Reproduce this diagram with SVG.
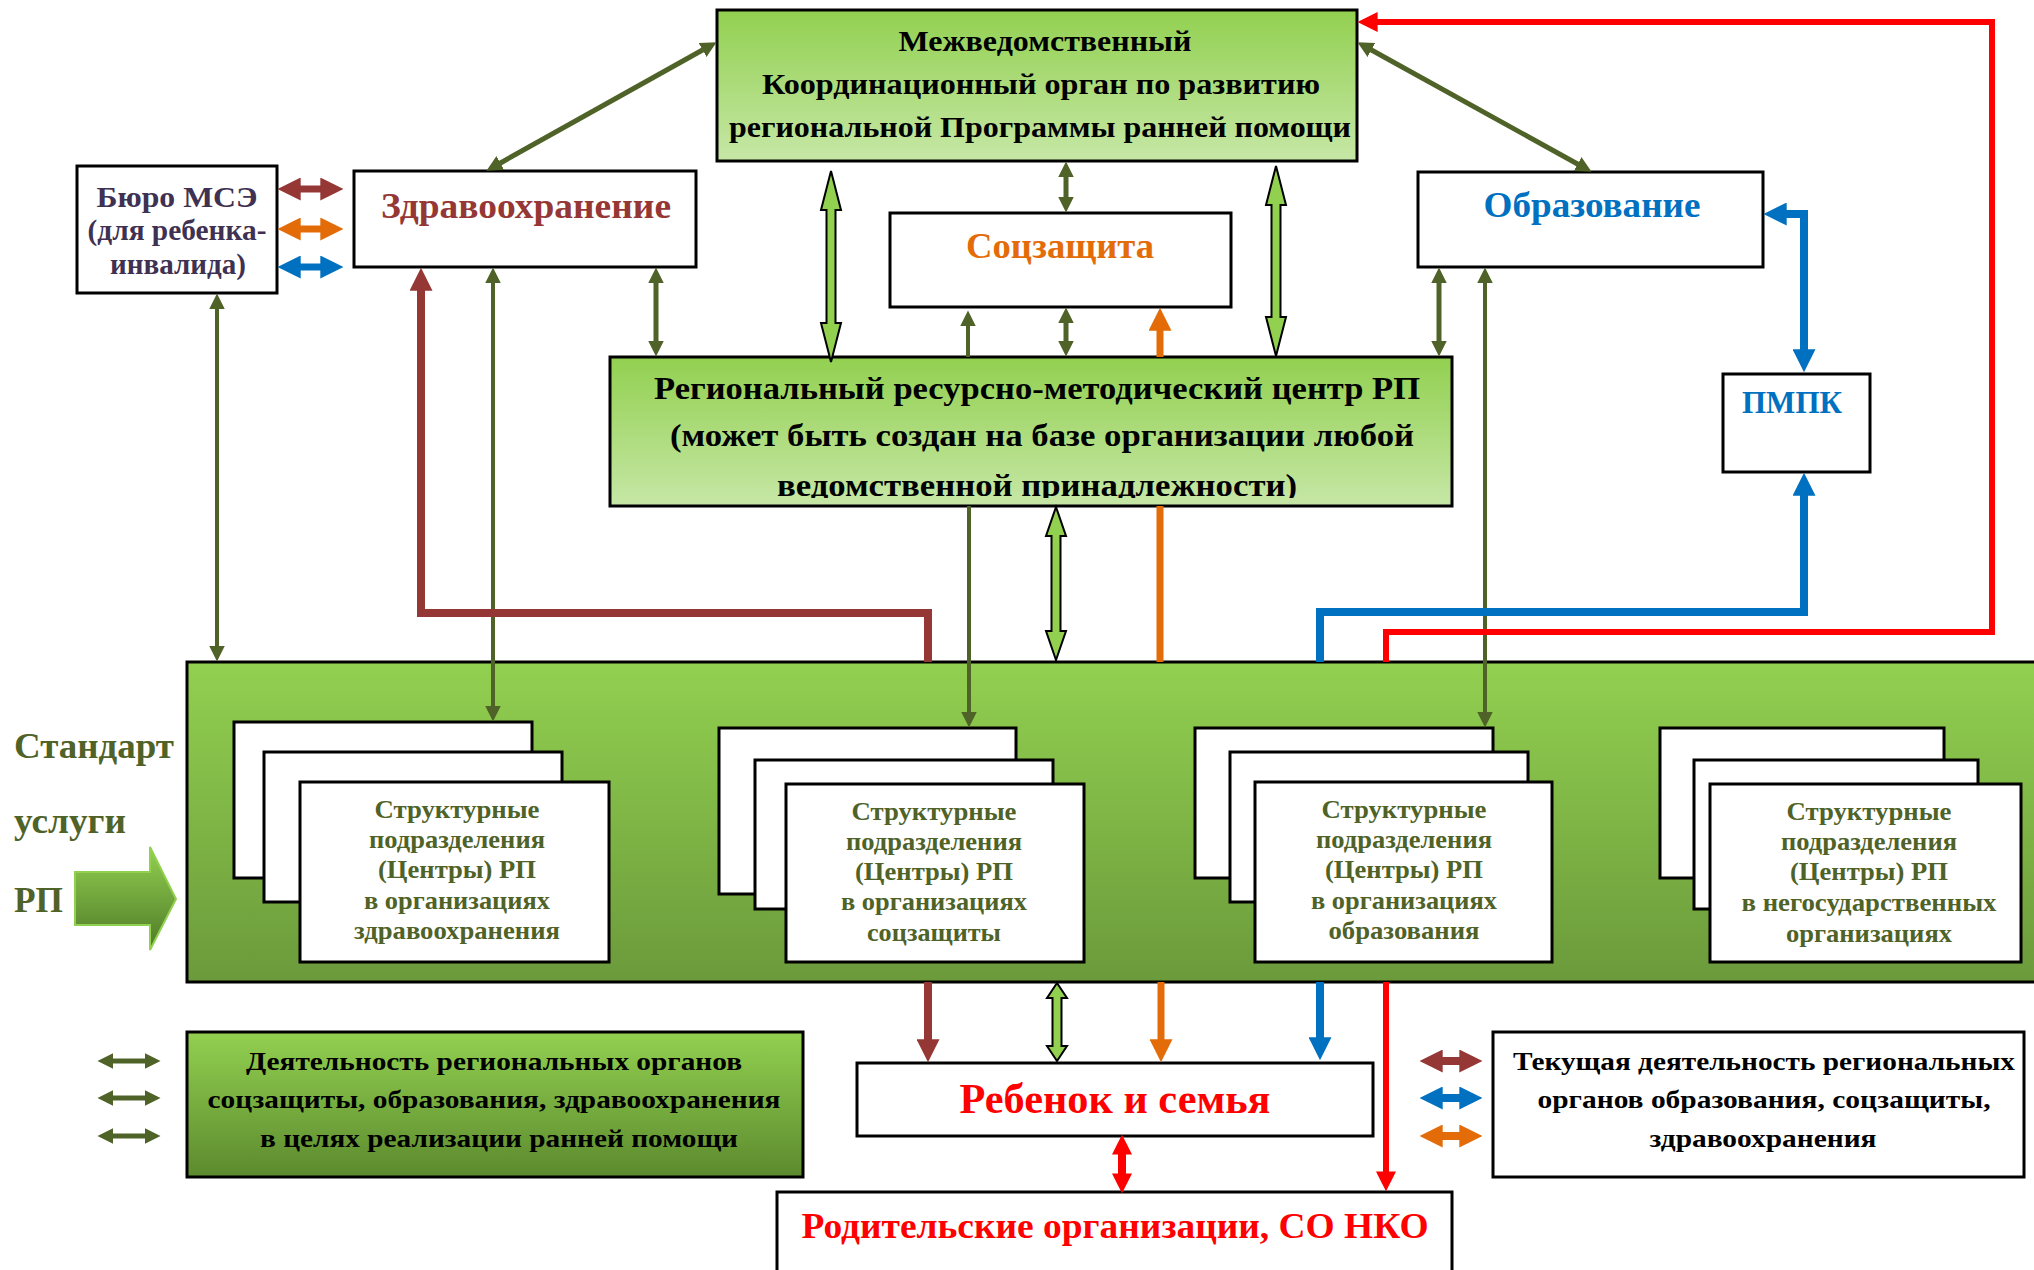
<svg xmlns="http://www.w3.org/2000/svg" width="2034" height="1270" viewBox="0 0 2034 1270">
<style>
text{font-family:"Liberation Serif","Times New Roman",serif;font-weight:bold;text-anchor:middle}
.box{stroke:#000;stroke-width:3}
.white{fill:#fff}
.blk{fill:#000}
.olv{fill:#4F6228}
.t30{font-size:30px}
.t32{font-size:32px}
.t36{font-size:36px}
.t26{font-size:26px}
.ol{stroke:#4F6228;stroke-width:4;fill:none}
.ol5{stroke:#4F6228;stroke-width:5;fill:none}
.br{stroke:#953735;stroke-width:8;fill:none}
.bl{stroke:#0070C0;stroke-width:8;fill:none}
.or{stroke:#E36C09;stroke-width:7;fill:none}
.rd{stroke:#FF0000;stroke-width:6;fill:none}
.blk-arrow{fill:#92D050;stroke:#000;stroke-width:2;stroke-linejoin:miter}
</style>
<defs>
<linearGradient id="gLight" x1="0" y1="0" x2="0" y2="1"><stop offset="0" stop-color="#92D050"/><stop offset="1" stop-color="#C6E7A6"/></linearGradient>
<linearGradient id="gBand" x1="0" y1="0" x2="0" y2="1"><stop offset="0" stop-color="#92D050"/><stop offset="1" stop-color="#6B9A3B"/></linearGradient>
<linearGradient id="gDark" x1="0" y1="0" x2="0" y2="1"><stop offset="0" stop-color="#92D050"/><stop offset="1" stop-color="#5C8A2E"/></linearGradient>
<linearGradient id="gArrow" x1="0" y1="0" x2="0" y2="1"><stop offset="0" stop-color="#92D050"/><stop offset="1" stop-color="#4F7A28"/></linearGradient>
<marker id="hOl" markerUnits="userSpaceOnUse" viewBox="0 0 10 10" preserveAspectRatio="none" refX="0.3" refY="5" markerWidth="16" markerHeight="16" orient="auto-start-reverse"><path d="M0,0L10,5L0,10z" fill="#4F6228"/></marker>
<marker id="hBr" markerUnits="userSpaceOnUse" viewBox="0 0 10 10" preserveAspectRatio="none" refX="0.3" refY="5" markerWidth="23" markerHeight="23" orient="auto-start-reverse"><path d="M0,0L10,5L0,10z" fill="#953735"/></marker>
<marker id="hBl" markerUnits="userSpaceOnUse" viewBox="0 0 10 10" preserveAspectRatio="none" refX="0.3" refY="5" markerWidth="23" markerHeight="23" orient="auto-start-reverse"><path d="M0,0L10,5L0,10z" fill="#0070C0"/></marker>
<marker id="hOr" markerUnits="userSpaceOnUse" viewBox="0 0 10 10" preserveAspectRatio="none" refX="0.3" refY="5" markerWidth="23" markerHeight="23" orient="auto-start-reverse"><path d="M0,0L10,5L0,10z" fill="#E36C09"/></marker>
<marker id="hRd" markerUnits="userSpaceOnUse" viewBox="0 0 10 10" preserveAspectRatio="none" refX="0.3" refY="5" markerWidth="20" markerHeight="20" orient="auto-start-reverse"><path d="M0,0L10,5L0,10z" fill="#FF0000"/></marker>
<clipPath id="cCenter"><rect x="610" y="357" width="842" height="141"/></clipPath>
</defs>

<g id="band">
<rect class="box" x="187" y="662" width="1853" height="320" fill="url(#gBand)"/>
</g>

<g id="standard-label">
<text class="olv" x="14" y="758" font-size="36" style="text-anchor:start" textLength="160" lengthAdjust="spacingAndGlyphs">Стандарт</text>
<text class="olv" x="14" y="833" font-size="36" style="text-anchor:start" textLength="112" lengthAdjust="spacingAndGlyphs">услуги</text>
<text class="olv" x="14" y="912" font-size="36" style="text-anchor:start" textLength="49" lengthAdjust="spacingAndGlyphs">РП</text>
<polygon points="75,872 150,872 150,847 176,899 150,950 150,925 75,925" fill="url(#gArrow)" stroke="#92D050" stroke-width="2"/>
</g>

<g id="node-top">
<rect class="box" x="717" y="10" width="640" height="151" fill="url(#gLight)"/>
<text class="blk t30" x="1045" y="51" textLength="293" lengthAdjust="spacingAndGlyphs">Межведомственный</text>
<text class="blk t30" x="1041" y="94" textLength="558" lengthAdjust="spacingAndGlyphs">Координационный орган по развитию</text>
<text class="blk t30" x="1040" y="137" textLength="622" lengthAdjust="spacingAndGlyphs">региональной Программы ранней помощи</text>
</g>

<g id="node-buro">
<rect class="box white" x="77" y="166" width="200" height="127"/>
<text class="t30" fill="#3F3151" x="177" y="207" textLength="161" lengthAdjust="spacingAndGlyphs">Бюро МСЭ</text>
<text class="t30" fill="#3F3151" x="177" y="240" textLength="179" lengthAdjust="spacingAndGlyphs">(для ребенка-</text>
<text class="t30" fill="#3F3151" x="178" y="274" textLength="136" lengthAdjust="spacingAndGlyphs">инвалида)</text>
</g>

<g id="node-health">
<rect class="box white" x="354" y="171" width="342" height="96"/>
<text class="t36" fill="#953735" x="526" y="218" textLength="290" lengthAdjust="spacingAndGlyphs">Здравоохранение</text>
</g>

<g id="node-social">
<rect class="box white" x="890" y="213" width="341" height="94"/>
<text class="t36" fill="#E36C09" x="1060" y="258" textLength="188" lengthAdjust="spacingAndGlyphs">Соцзащита</text>
</g>

<g id="node-edu">
<rect class="box white" x="1418" y="172" width="345" height="95"/>
<text class="t36" fill="#0070C0" x="1592" y="217" textLength="217" lengthAdjust="spacingAndGlyphs">Образование</text>
</g>

<g id="node-pmpk">
<rect class="box white" x="1723" y="374" width="147" height="98"/>
<text class="t32" fill="#0070C0" x="1792" y="413" textLength="100" lengthAdjust="spacingAndGlyphs">ПМПК</text>
</g>

<g id="node-center">
<rect class="box" x="610" y="357" width="842" height="149" fill="url(#gLight)"/>
<text class="blk t32" x="1037" y="399" textLength="766" lengthAdjust="spacingAndGlyphs">Региональный ресурсно-методический центр РП</text>
<text class="blk t32" x="1042" y="446" textLength="744" lengthAdjust="spacingAndGlyphs">(может быть создан на базе организации любой</text>
<text class="blk t32" x="1037" y="496" textLength="520" lengthAdjust="spacingAndGlyphs" clip-path="url(#cCenter)">ведомственной принадлежности)</text>
</g>

<g id="node-units-health">
<rect class="box white" x="234" y="722" width="298" height="156"/>
<rect class="box white" x="264" y="752" width="298" height="150"/>
<rect class="box white" x="300" y="782" width="309" height="180"/>
<text class="olv t26" x="457" y="818" textLength="165" lengthAdjust="spacingAndGlyphs">Структурные</text>
<text class="olv t26" x="457" y="848" textLength="176" lengthAdjust="spacingAndGlyphs">подразделения</text>
<text class="olv t26" x="457" y="878" textLength="158" lengthAdjust="spacingAndGlyphs">(Центры) РП</text>
<text class="olv t26" x="457" y="909" textLength="186" lengthAdjust="spacingAndGlyphs">в организациях</text>
<text class="olv t26" x="457" y="939" textLength="206" lengthAdjust="spacingAndGlyphs">здравоохранения</text>
</g>

<g id="node-units-social">
<rect class="box white" x="719" y="728" width="297" height="166"/>
<rect class="box white" x="755" y="760" width="298" height="149"/>
<rect class="box white" x="786" y="784" width="298" height="178"/>
<text class="olv t26" x="934" y="820" textLength="165" lengthAdjust="spacingAndGlyphs">Структурные</text>
<text class="olv t26" x="934" y="850" textLength="176" lengthAdjust="spacingAndGlyphs">подразделения</text>
<text class="olv t26" x="934" y="880" textLength="158" lengthAdjust="spacingAndGlyphs">(Центры) РП</text>
<text class="olv t26" x="934" y="910" textLength="186" lengthAdjust="spacingAndGlyphs">в организациях</text>
<text class="olv t26" x="934" y="941" textLength="134" lengthAdjust="spacingAndGlyphs">соцзащиты</text>
</g>

<g id="node-units-edu">
<rect class="box white" x="1195" y="728" width="298" height="150"/>
<rect class="box white" x="1230" y="752" width="298" height="150"/>
<rect class="box white" x="1255" y="782" width="297" height="180"/>
<text class="olv t26" x="1404" y="818" textLength="165" lengthAdjust="spacingAndGlyphs">Структурные</text>
<text class="olv t26" x="1404" y="848" textLength="176" lengthAdjust="spacingAndGlyphs">подразделения</text>
<text class="olv t26" x="1404" y="878" textLength="158" lengthAdjust="spacingAndGlyphs">(Центры) РП</text>
<text class="olv t26" x="1404" y="909" textLength="186" lengthAdjust="spacingAndGlyphs">в организациях</text>
<text class="olv t26" x="1404" y="939" textLength="151" lengthAdjust="spacingAndGlyphs">образования</text>
</g>

<g id="node-units-ngo">
<rect class="box white" x="1660" y="728" width="284" height="150"/>
<rect class="box white" x="1694" y="760" width="284" height="149"/>
<rect class="box white" x="1710" y="784" width="311" height="178"/>
<text class="olv t26" x="1869" y="820" textLength="165" lengthAdjust="spacingAndGlyphs">Структурные</text>
<text class="olv t26" x="1869" y="850" textLength="176" lengthAdjust="spacingAndGlyphs">подразделения</text>
<text class="olv t26" x="1869" y="880" textLength="158" lengthAdjust="spacingAndGlyphs">(Центры) РП</text>
<text class="olv t26" x="1869" y="911" textLength="255" lengthAdjust="spacingAndGlyphs">в негосударственных</text>
<text class="olv t26" x="1869" y="942" textLength="166" lengthAdjust="spacingAndGlyphs">организациях</text>
</g>

<g id="legend-regional">
<rect class="box" x="187" y="1032" width="616" height="145" fill="url(#gDark)"/>
<text class="blk t26" x="494" y="1070" textLength="496" lengthAdjust="spacingAndGlyphs">Деятельность региональных органов</text>
<text class="blk t26" x="494" y="1108" textLength="573" lengthAdjust="spacingAndGlyphs">соцзащиты, образования, здравоохранения</text>
<text class="blk t26" x="499" y="1147" textLength="478" lengthAdjust="spacingAndGlyphs">в целях реализации ранней помощи</text>
</g>

<g id="node-child">
<rect class="box white" x="857" y="1063" width="516" height="73"/>
<text font-size="42" fill="#FF0000" x="1115" y="1113" textLength="311" lengthAdjust="spacingAndGlyphs">Ребенок и семья</text>
</g>

<g id="node-parents">
<rect class="box white" x="777" y="1192" width="675" height="80"/>
<text class="t36" fill="#FF0000" x="1115" y="1238" textLength="627" lengthAdjust="spacingAndGlyphs">Родительские организации, СО НКО</text>
</g>

<g id="legend-current">
<rect class="box white" x="1493" y="1032" width="531" height="145"/>
<text class="blk t26" x="1764" y="1070" textLength="502" lengthAdjust="spacingAndGlyphs">Текущая деятельность региональных</text>
<text class="blk t26" x="1764" y="1108" textLength="453" lengthAdjust="spacingAndGlyphs">органов образования, соцзащиты,</text>
<text class="blk t26" x="1763" y="1147" textLength="227" lengthAdjust="spacingAndGlyphs">здравоохранения</text>
</g>

<g id="connectors">
<!-- olive -->
<path class="ol5" d="M500,163.2L703,49.8" marker-start="url(#hOl)" marker-end="url(#hOl)"/>
<path class="ol5" d="M1371,49.7L1578,164.3" marker-start="url(#hOl)" marker-end="url(#hOl)"/>
<path class="ol5" d="M1066,177V197" marker-start="url(#hOl)" marker-end="url(#hOl)"/>
<path class="ol5" d="M1066,323V341" marker-start="url(#hOl)" marker-end="url(#hOl)"/>
<path class="ol" d="M968,357V326" marker-end="url(#hOl)"/>
<path class="ol5" d="M656,283V341" marker-start="url(#hOl)" marker-end="url(#hOl)"/>
<path class="ol5" d="M1439,283V341" marker-start="url(#hOl)" marker-end="url(#hOl)"/>
<path class="ol" d="M217,309V646" marker-start="url(#hOl)" marker-end="url(#hOl)"/>
<path class="ol" d="M493,283V706" marker-start="url(#hOl)" marker-end="url(#hOl)"/>
<path class="ol" d="M969,506V712" marker-end="url(#hOl)"/>
<path class="ol" d="M1485,283V712" marker-start="url(#hOl)" marker-end="url(#hOl)"/>
<!-- brown -->
<path class="br" d="M928,662V613H421V290" marker-end="url(#hBr)"/>
<path class="br" d="M928,982V1040" marker-end="url(#hBr)"/>
<!-- orange -->
<path class="or" d="M1160,662V506"/>
<path class="or" d="M1160,357V330" marker-end="url(#hOr)"/>
<path class="or" d="M1161,982V1040" marker-end="url(#hOr)"/>
<!-- blue -->
<path class="bl" d="M1320,662V612H1804V495" marker-end="url(#hBl)"/>
<path class="bl" d="M1320,982V1038" marker-end="url(#hBl)"/>
<path class="bl" d="M1786,214H1804V350" marker-start="url(#hBl)" marker-end="url(#hBl)"/>
<!-- red -->
<path class="rd" d="M1386,662V632H1992V22H1377" marker-end="url(#hRd)"/>
<path class="rd" d="M1386,982V1172" marker-end="url(#hRd)"/>
<path class="rd" style="stroke-width:8" d="M1122,1154V1174" marker-start="url(#hRd)" marker-end="url(#hRd)"/>
<!-- light green block arrows -->
<polygon class="blk-arrow" points="831,171 841,210 835.5,210 835.5,323 841,323 831,362 821,323 826.5,323 826.5,210 821,210"/>
<polygon class="blk-arrow" points="1276,166 1286,205 1280.5,205 1280.5,317 1286,317 1276,356 1266,317 1271.5,317 1271.5,205 1266,205"/>
<polygon class="blk-arrow" points="1056,507 1066,536 1060.5,536 1060.5,631 1066,631 1056,660 1046,631 1051.5,631 1051.5,536 1046,536"/>
<polygon class="blk-arrow" points="1057,983 1067,998 1061.5,998 1061.5,1046 1067,1046 1057,1061 1047,1046 1052.5,1046 1052.5,998 1047,998"/>
<!-- buro side arrows -->
<path class="br" style="stroke-width:7" d="M300,189H321" marker-start="url(#hBr)" marker-end="url(#hBr)"/>
<path class="or" d="M300,229H321" marker-start="url(#hOr)" marker-end="url(#hOr)"/>
<path class="bl" style="stroke-width:7" d="M300,267H321" marker-start="url(#hBl)" marker-end="url(#hBl)"/>
<!-- legend arrows -->
<path class="ol5" d="M113,1061H145" marker-start="url(#hOl)" marker-end="url(#hOl)"/>
<path class="ol5" d="M113,1098H145" marker-start="url(#hOl)" marker-end="url(#hOl)"/>
<path class="ol5" d="M113,1136H145" marker-start="url(#hOl)" marker-end="url(#hOl)"/>
<path class="br" d="M1442,1061H1460" marker-start="url(#hBr)" marker-end="url(#hBr)"/>
<path class="bl" d="M1442,1098H1460" marker-start="url(#hBl)" marker-end="url(#hBl)"/>
<path class="or" style="stroke-width:8" d="M1442,1136H1460" marker-start="url(#hOr)" marker-end="url(#hOr)"/>
</g>
</svg>
